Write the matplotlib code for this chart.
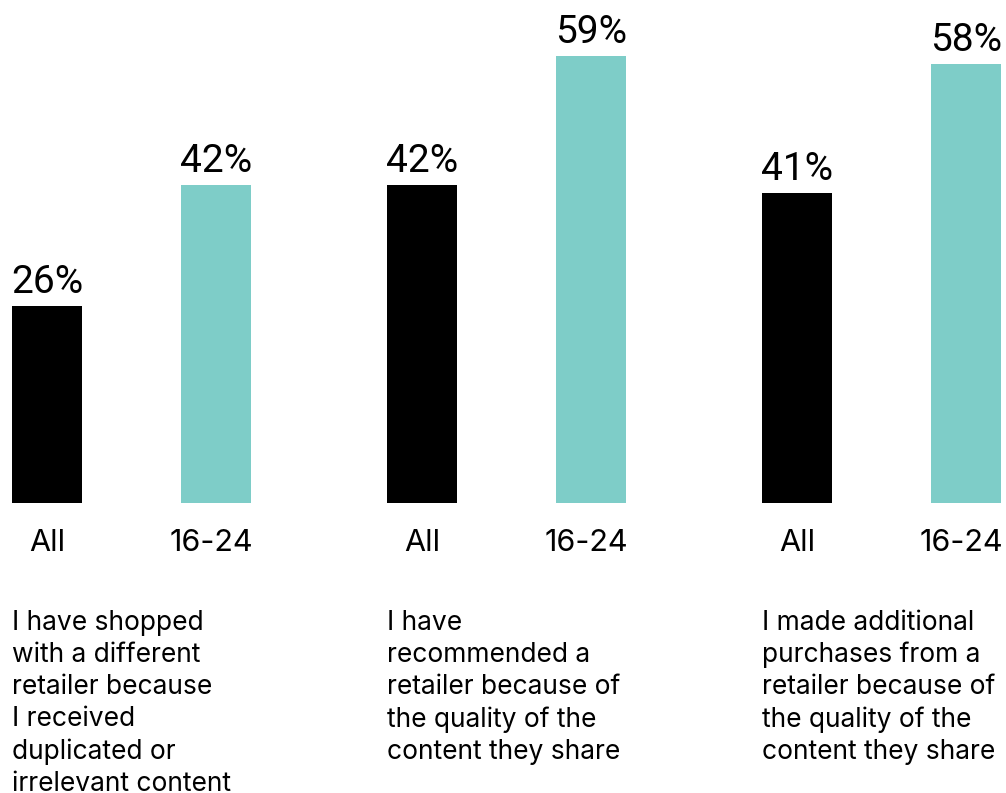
import matplotlib
matplotlib.use("Agg")
import matplotlib.pyplot as plt
import matplotlib.transforms as mtransforms

# ---- data ----
groups = [
    "I have shopped\nwith a different\nretailer because\nI received\nduplicated or\nirrelevant content",
    "I have\nrecommended a\nretailer because of\nthe quality of the\ncontent they share",
    "I made additional\npurchases from a\nretailer because of\nthe quality of the\ncontent they share",
]
segments = ["All", "16-24"]
values_all = [26, 42, 41]
values_young = [42, 59, 58]

# ---- style ----
W, H = 1006, 793
fig = plt.figure(figsize=(W / 100, H / 100), dpi=100)
ax = fig.add_axes([0, 0, 1, 1])
ax.set_axis_off()

px_per_unit_x = 375.0
first_center_px = 47.0
ax.set_xlim(-first_center_px / px_per_unit_x, (W - first_center_px) / px_per_unit_x)
px_per_pct = 7.57
base_px_from_bottom = H - 503
ax.set_ylim(-base_px_from_bottom / px_per_pct, (H - base_px_from_bottom) / px_per_pct)

offset = 169 / 375.0
width = 70 / 375.0
colors = ["#000000", "#7ECDC8"]
line_px = 32

trans_fig_y = mtransforms.blended_transform_factory(ax.transData, fig.transFigure)

for i, g in enumerate(groups):
    for j, (vals, col) in enumerate(zip([values_all, values_young], colors)):
        x = i + j * offset
        v = vals[i]
        ax.bar(x, v, width=width, color=col, linewidth=0)
        ax.annotate(f"{v}%", xy=(x, v), xytext=(0, 9.4), textcoords="offset points",
                    ha="center", va="baseline", fontsize=28, family="Roboto",
                    color="#000000")
        dx = 0 if j == 0 else -5
        ax.text(x + dx / px_per_unit_x, 1 - 551 / H, segments[j], transform=trans_fig_y,
                ha="center", va="baseline", fontsize=22, family="Inter", color="#000000")
    left = i - (width / 2)
    nlines = g.count("\n") + 1
    last_base = 631 + line_px * (nlines - 1)
    ax.text(left, 1 - last_base / H, g, transform=trans_fig_y, ha="left", va="baseline",
            fontsize=19, family="Inter", color="#000000", linespacing=1.30)

fig.savefig("out.png", dpi=100)
